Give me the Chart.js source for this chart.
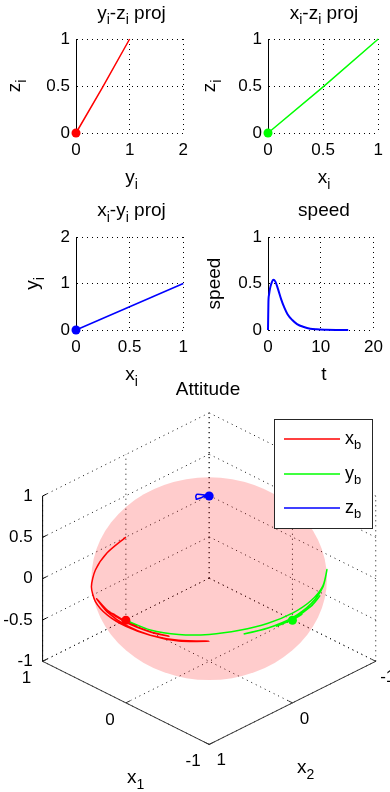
<!DOCTYPE html>
<html><head><meta charset="utf-8">
<script src="https://cdn.jsdelivr.net/npm/chart.js@4"></script>
<style>
html,body{margin:0;padding:0;background:#fff;}
body{width:390px;height:792px;position:relative;overflow:hidden;}
canvas{position:absolute;}
</style></head><body>
<canvas id="c1" width="195" height="195" style="left:0px;top:0px"></canvas>
<canvas id="c2" width="195" height="195" style="left:195px;top:0px"></canvas>
<canvas id="c3" width="195" height="195" style="left:0px;top:195px"></canvas>
<canvas id="c4" width="195" height="195" style="left:195px;top:195px"></canvas>
<canvas id="c5" width="390" height="412" style="left:0px;top:380px"></canvas>
<script>
const FONT = '"Liberation Sans", Arial, Helvetica, sans-serif';
const RED = '#ff0000', GREEN = '#00ff00', BLUE = '#0000ff';

// ---------------- data ----------------
const posXi = [1, 0.5, 0];
const posYi = [1, 0.5, 0];
const posZi = [1, 0.49, 0];

const speedT = [0, 0.08, 0.2, 0.4, 0.7, 1.0, 1.4, 1.9, 2.5, 3.1, 3.7, 4.6, 5.5, 6.8, 8.0, 9.2, 11, 13, 15.2];
const speedV = [0, 0.30, 0.38, 0.45, 0.51, 0.54, 0.52, 0.44, 0.33, 0.24, 0.17, 0.107, 0.064, 0.032, 0.014, 0.007, 0.003, 0.001, 0];

const ticksUnit = [0, 0.5, 1];
const ticksTwo = [0, 1, 2];
const ticksTime = [0, 10, 20];
const ticksX12 = [-1, 0, 1];
const ticksZ = [-1, -0.5, 0, 0.5, 1];

// body axes in inertial frame (x1, x2, z components)
const xb1 = [1, .966, .866, .707, .5, .259, 0, -.259, -.5, -.707, -.5, -.259, 0, .259, .469, .259, 0, -.259, -.423, -.259, 0, .174, 0, -.122, 0, 0];
const xb2 = [0, .259, .5, .707, .866, .966, 1, .966, .866, .707, .866, .966, 1, .966, .883, .966, 1, .966, .906, .966, 1, .985, 1, .993, 1, 1];
const xb3 = [0, -.043, -.080, -.097, -.093, -.083, -.075, -.069, -.059, -.046, -.067, -.068, -.060, -.046, -.034, -.026, -.025, -.029, -.028, -.025, -.020, -.014, -.012, -.011, -.005, 0];
const yb1 = [0, -.259, -.5, -.707, -.866, -.966, -1, -.966, -.866, -.707, -.866, -.966, -1, -.966, -.883, -.966, -1, -.966, -.906, -.966, -1, -.985, -1, -.993, -1, -1];
const yb2 = [1, .966, .866, .707, .5, .259, 0, -.259, -.5, -.707, -.5, -.259, 0, .259, .469, .259, 0, -.259, -.423, -.259, 0, .174, 0, -.122, 0, 0];
const yb3 = [0, -.004, .012, .037, .062, .076, .085, .091, .098, .110, .085, .054, .030, .019, .010, .019, .020, .028, .035, .022, .010, .008, .008, .0075, .003, 0];
const zb1 = [0, .04, .075, .095, .1, .095, .085, .07, .055, .045, .04, .035, .03, .03, .025, .025, .02, .02, .02, .015, .01, .01, .008, .006, .003, 0];
const zb2 = [0, .015, .03, .042, .05, .06, .075, .09, .10, .11, .10, .08, .06, .04, .025, .02, .025, .035, .04, .03, .02, .012, .012, .012, .005, 0];
const zb3 = [1, .999, .9965, .9946, .9937, .9937, .9936, .9934, .9935, .9929, .9942, .9961, .9977, .9987, .9994, .9995, .9995, .9992, .999, .9994, .9998, .9999, .9999, .9999, 1, 1];
const bodyAxisNames = ['x', 'y', 'z'];

// ---------------- helpers ----------------
function drawRich(ctx, parts, x, y, align, rot, size) {
  const sub = Math.round(size * 0.72);
  ctx.save();
  ctx.translate(x, y);
  if (rot) ctx.rotate(rot);
  let w = 0;
  const ws = parts.map(([t, s]) => { ctx.font = (s ? sub : size) + 'px ' + FONT; const m = ctx.measureText(t).width; w += m; return m; });
  let cx = align === 'center' ? -w / 2 : (align === 'right' ? -w : 0);
  ctx.textBaseline = 'alphabetic'; ctx.textAlign = 'left'; ctx.fillStyle = '#000';
  parts.forEach(([t, s], i) => {
    ctx.font = (s ? sub : size) + 'px ' + FONT;
    ctx.fillText(t, cx, s ? size * 0.3 : 0);
    cx += ws[i];
  });
  ctx.restore();
}
function richText(items) {
  return { id: 'richText', afterDraw(chart) {
    items.forEach(it => drawRich(chart.ctx, it.p, it.x, it.y, it.a || 'center', it.r || 0, it.s || 19));
  }};
}
function lin(min, max, ticks, isX, fit, pad) {
  return {
    type: 'linear', min, max,
    afterBuildTicks: s => { s.ticks = ticks.map(v => ({ value: v })); },
    afterFit: s => { if (isX) s.height = fit; else s.width = fit; },
    ticks: { padding: pad, color: '#000', font: { size: 17, family: FONT }, maxRotation: 0, autoSkip: false, callback: v => String(v) },
    grid: { color: '#000', lineWidth: 1, drawTicks: false },
    border: { display: !isX, color: '#000', width: 1, dash: [1, 4] }
  };
}
function base(scales, padding) {
  return {
    responsive: false, animation: false, events: [],
    layout: { padding },
    plugins: { legend: { display: false }, tooltip: { enabled: false }, title: { display: false } },
    scales
  };
}
function lineDs(xs, ys, color, w) {
  return { data: xs.map((v, i) => ({ x: v, y: ys[i] })), showLine: true, borderColor: color, borderWidth: w, pointRadius: 0, clip: false, order: 2 };
}
function dotDs(x, y, color) {
  return { data: [{ x, y }], showLine: false, pointRadius: 4.5, pointBorderWidth: 0, backgroundColor: color, borderColor: color, clip: false, order: 1 };
}
const last = a => a[a.length - 1];
const sub = (a, b) => [[a, 0], [b, 1]];

// ---------------- 2D projections ----------------
new Chart(document.getElementById('c1'), {
  type: 'scatter',
  data: { datasets: [lineDs(posYi, posZi, RED, 1.5), dotDs(last(posYi), last(posZi), RED)] },
  options: base({ x: lin(0, 2, ticksTwo, true, 40, 7), y: lin(0, 1, ticksUnit, false, 76, 6) }, { left: 0, top: 39, right: 8, bottom: 22 }),
  plugins: [richText([
    { p: [['y', 0], ['i', 1], ['-z', 0], ['i', 1], [' proj', 0]], x: 131.5, y: 18.5 },
    { p: sub('y', 'i'), x: 131.5, y: 183 },
    { p: sub('z', 'i'), x: 20, y: 86, r: -Math.PI / 2 }
  ])]
});
new Chart(document.getElementById('c2'), {
  type: 'scatter',
  data: { datasets: [lineDs(posXi, posZi, GREEN, 1.5), dotDs(last(posXi), last(posZi), GREEN)] },
  options: base({ x: lin(0, 1, ticksUnit, true, 40, 7), y: lin(0, 1, ticksUnit, false, 73, 6) }, { left: 0, top: 39, right: 10, bottom: 22 }),
  plugins: [richText([
    { p: [['x', 0], ['i', 1], ['-z', 0], ['i', 1], [' proj', 0]], x: 129, y: 18.5 },
    { p: sub('x', 'i'), x: 129, y: 183 },
    { p: sub('z', 'i'), x: 20, y: 86, r: -Math.PI / 2 }
  ])]
});
new Chart(document.getElementById('c3'), {
  type: 'scatter',
  data: { datasets: [lineDs(posXi, posYi, BLUE, 1.5), dotDs(last(posXi), last(posYi), BLUE)] },
  options: base({ x: lin(0, 1, ticksUnit, true, 40, 7), y: lin(0, 2, ticksTwo, false, 76, 6) }, { left: 0, top: 42, right: 8, bottom: 20 }),
  plugins: [richText([
    { p: [['x', 0], ['i', 1], ['-y', 0], ['i', 1], [' proj', 0]], x: 131.5, y: 21 },
    { p: sub('x', 'i'), x: 131.5, y: 185 },
    { p: sub('y', 'i'), x: 38, y: 88.5, r: -Math.PI / 2 }
  ])]
});
new Chart(document.getElementById('c4'), {
  type: 'scatter',
  data: { datasets: [Object.assign(lineDs(speedT, speedV, BLUE, 2), { cubicInterpolationMode: 'monotone' })] },
  options: base({ x: lin(0, 20, ticksTime, true, 40, 7), y: lin(0, 1, ticksUnit, false, 73, 6) }, { left: 0, top: 42, right: 10, bottom: 20 }),
  plugins: [richText([
    { p: [['speed', 0]], x: 129, y: 21 },
    { p: [['t', 0]], x: 129, y: 185 },
    { p: [['speed', 0]], x: 25, y: 88.5, r: -Math.PI / 2 }
  ])]
});

// ---------------- 3D attitude ----------------
const KX = 0.4985, KZ = 0.991;   // view (az symmetric, el ~30)
const P = (a, b, c) => ({ x: -(a + b), y: KX * (a - b) + KZ * c });
const path = (A, B, C) => A.map((v, i) => P(v, B[i], C[i]));

const plot3d = {
  id: 'plot3d',
  beforeDatasetsDraw(chart) {
    const { ctx, scales: { x, y } } = chart;
    const px = (a, b, c) => { const q = P(a, b, c); return [x.getPixelForValue(q.x), y.getPixelForValue(q.y)]; };
    const seg = (A, B) => { ctx.beginPath(); ctx.moveTo(A[0], A[1]); ctx.lineTo(B[0], B[1]); ctx.stroke(); };
    ctx.save();
    ctx.strokeStyle = '#111'; ctx.lineWidth = 1; ctx.setLineDash([1, 4]);
    ticksX12.forEach(t => {
      seg(px(t, -1, -1), px(t, 1, -1));
      seg(px(-1, t, -1), px(1, t, -1));
      seg(px(1, t, -1), px(1, t, 1));
      seg(px(t, -1, -1), px(t, -1, 1));
    });
    ticksZ.forEach(z => {
      seg(px(1, -1, z), px(1, 1, z));
      seg(px(-1, -1, z), px(1, -1, z));
    });
    ctx.setLineDash([]);
    const c = px(0, 0, 0);
    const rx = Math.abs(x.getPixelForValue(Math.SQRT2) - x.getPixelForValue(0));
    const ry = Math.abs(y.getPixelForValue(Math.hypot(KX * Math.SQRT2, KZ)) - y.getPixelForValue(0));
    ctx.fillStyle = 'rgba(255,0,0,0.2)';
    ctx.beginPath(); ctx.ellipse(c[0], c[1], rx, ry, 0, 0, 2 * Math.PI); ctx.fill();
    ctx.restore();
  },
  afterDraw(chart) {
    const { ctx, scales: { x, y } } = chart;
    const px = (a, b, c) => { const q = P(a, b, c); return [x.getPixelForValue(q.x), y.getPixelForValue(q.y)]; };
    const seg = (A, B) => { ctx.beginPath(); ctx.moveTo(A[0], A[1]); ctx.lineTo(B[0], B[1]); ctx.stroke(); };
    ctx.save();
    ctx.lineWidth = 1; ctx.setLineDash([]);
    ctx.strokeStyle = '#000';
    seg(px(1, 1, -1), px(1, 1, 1));
    ticksZ.forEach(z => seg(px(1, 1, z), px(1, 0.95, z)));
    ctx.strokeStyle = '#333';
    seg(px(1, 1, -1), px(-1, 1, -1));
    seg(px(-1, 1, -1), px(-1, -1, -1));
    ticksX12.forEach(t => { seg(px(t, 1, -1), px(t, 0.95, -1)); seg(px(-1, t, -1), px(-0.95, t, -1)); });
    ctx.fillStyle = '#000'; ctx.font = '17px ' + FONT; ctx.textBaseline = 'middle';
    ctx.textAlign = 'right';
    ticksZ.forEach(z => { const p = px(1, 1, z); ctx.fillText(String(z), p[0] - 10, p[1]); });
    ctx.textAlign = 'center';
    ticksX12.forEach(t => { const p = px(t, 1, -1); ctx.fillText(String(t), p[0] - 16, p[1] + 17); });
    ticksX12.forEach(t => { const p = px(-1, t, -1); ctx.fillText(String(t), p[0] + 12, p[1] + 16); });
    drawRich(ctx, [['Attitude', 0]], 208, 15, 'center', 0, 19);
    drawRich(ctx, sub('x', '1'), 127, 403, 'left', 0, 19);
    drawRich(ctx, sub('x', '2'), 297, 393, 'left', 0, 19);
    // legend
    ctx.fillStyle = '#fff'; ctx.fillRect(274.5, 39.5, 98, 109);
    ctx.strokeStyle = '#262626'; ctx.lineWidth = 1; ctx.strokeRect(274.5, 39.5, 98, 109);
    const cols = [RED, GREEN, BLUE], ly = [59, 94, 128];
    bodyAxisNames.forEach((n, i) => {
      ctx.strokeStyle = cols[i]; ctx.lineWidth = 1.5;
      seg([284, ly[i]], [340, ly[i]]);
      drawRich(ctx, sub(n, 'b'), 345, ly[i] + 5, 'left', 0, 18);
    });
    ctx.restore();
  }
};

const lastP = (A, B, C) => [P(last(A), last(B), last(C))];
new Chart(document.getElementById('c5'), {
  type: 'scatter',
  data: { datasets: [
    { data: path(xb1, xb2, xb3), showLine: true, borderColor: RED, borderWidth: 1.5, pointRadius: 0, tension: 0.25, clip: false, order: 6 },
    { data: path(yb1, yb2, yb3), showLine: true, borderColor: GREEN, borderWidth: 1.5, pointRadius: 0, tension: 0.25, clip: false, order: 5 },
    { data: path(zb1, zb2, zb3), showLine: true, borderColor: BLUE, borderWidth: 1.5, pointRadius: 0, tension: 0.25, clip: false, order: 4 },
    { data: lastP(xb1, xb2, xb3), pointRadius: 4.5, pointBorderWidth: 0, backgroundColor: RED, clip: false, order: 3 },
    { data: lastP(yb1, yb2, yb3), pointRadius: 4.5, pointBorderWidth: 0, backgroundColor: GREEN, clip: false, order: 2 },
    { data: lastP(zb1, zb2, zb3), pointRadius: 4.5, pointBorderWidth: 0, backgroundColor: BLUE, clip: false, order: 1 }
  ]},
  options: {
    responsive: false, animation: false, events: [],
    layout: { padding: 0 },
    plugins: { legend: { display: false }, tooltip: { enabled: false } },
    scales: {
      x: { type: 'linear', display: false, min: -2.4575, max: 2.1173 },
      y: { type: 'linear', display: false, min: -2.5044, max: 2.3284 }
    }
  },
  plugins: [plot3d]
});
</script></body></html>
